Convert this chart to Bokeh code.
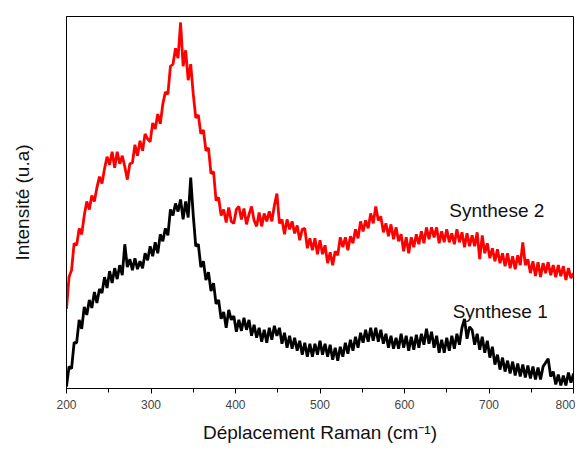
from bokeh.plotting import figure
from bokeh.models import FixedTicker, Label
from bokeh.embed import file_html
from bokeh.resources import INLINE

# Raman shift grid (cm-1), step 3
wavenumber = list(range(200, 801, 3))

# Synthese 2 (red), arbitrary units
synthese2 = [
    80, 112, 119, 146, 144, 161, 155, 174, 188, 180,
    194, 188, 202, 213, 206, 221, 233, 225, 238, 222,
    238, 226, 234, 223, 210, 226, 227, 245, 234, 249,
    239, 256, 251, 248, 267, 261, 276, 266, 286, 298,
    296, 324, 326, 342, 332, 368, 324, 340, 310, 326,
    296, 272, 275, 256, 260, 239, 242, 216, 218, 189,
    192, 174, 180, 167, 182, 168, 166, 180, 183, 170,
    181, 165, 175, 183, 169, 163, 177, 163, 176, 168,
    178, 168, 184, 196, 166, 170, 155, 170, 160, 168,
    156, 164, 149, 160, 161, 141, 151, 139, 151, 135,
    149, 135, 144, 126, 137, 124, 138, 134, 152, 142,
    152, 139, 153, 146, 160, 151, 168, 158, 169, 161,
    176, 166, 183, 169, 173, 157, 166, 153, 165, 150,
    162, 148, 155, 138, 152, 136, 152, 142, 155, 145,
    158, 146, 162, 150, 162, 152, 162, 146, 158, 147,
    160, 147, 156, 145, 160, 147, 157, 142, 156, 143,
    154, 143, 157, 130, 154, 136, 146, 131, 141, 128,
    140, 126, 136, 123, 136, 121, 133, 120, 134, 124,
    147, 124, 130, 116, 128, 113, 127, 112, 126, 116,
    127, 114, 124, 112, 124, 113, 123, 109, 121, 111,
    116,
]

# Synthese 1 (black), arbitrary units
synthese1 = [
    2, 22, 20, 46, 46, 69, 60, 82, 74, 89,
    81, 97, 86, 100, 96, 112, 101, 118, 106, 121,
    110, 124, 114, 145, 122, 130, 119, 131, 120, 128,
    121, 136, 129, 143, 133, 147, 136, 155, 148, 161,
    154, 180, 174, 186, 178, 190, 170, 188, 172, 212,
    174, 143, 145, 122, 128, 109, 117, 98, 106, 85,
    89, 70, 77, 61, 79, 69, 73, 57, 69, 58,
    71, 59, 69, 53, 64, 51, 61, 47, 59, 46,
    61, 49, 63, 53, 61, 45, 56, 41, 53, 40,
    51, 38, 48, 34, 46, 32, 45, 32, 45, 34,
    48, 34, 45, 32, 44, 29, 41, 28, 42, 32,
    46, 35, 49, 38, 52, 41, 56, 46, 59, 47,
    61, 48, 61, 47, 59, 45, 55, 41, 53, 40,
    51, 40, 55, 41, 53, 38, 52, 39, 54, 41,
    55, 44, 60, 45, 57, 41, 53, 36, 49, 36,
    51, 38, 53, 40, 55, 44, 61, 70, 50, 62,
    59, 44, 55, 39, 52, 36, 48, 31, 42, 24,
    34, 19, 31, 17, 28, 15, 27, 13, 25, 12,
    24, 11, 23, 10, 22, 9, 21, 9, 22, 26,
    30, 12, 17, 4, 14, 3, 13, 3, 16, 6,
    15,
]

x_ticks = [200, 300, 400, 500, 600, 700, 800]
x_minor_ticks = [250, 350, 450, 550, 650, 750]

series_names = ["Synthese 2", "Synthese 1"]
label_x = [653, 657]
label_y = [179, 77]

FONT = "Liberation Sans"

p = figure(width=575, height=445, output_backend="svg", toolbar_location=None,
           x_range=(200, 800), y_range=(0, 374),
           min_border_left=66, min_border_right=2, min_border_top=16,
           min_border_bottom=55)

p.line(wavenumber, synthese2, line_color="#ff0000", line_width=2.8)
p.line(wavenumber, synthese1, line_color="#000000", line_width=2.8)

for name, lx, ly in zip(series_names, label_x, label_y):
    p.add_layout(Label(x=lx, y=ly, text=name, text_font=FONT,
                       text_font_size="19px", text_color="#111111",
                       text_baseline="middle", text_align="left"))

p.xgrid.visible = False
p.ygrid.visible = False
p.outline_line_color = "black"
p.outline_line_width = 1

xa = p.xaxis[0]
xa.ticker = FixedTicker(ticks=x_ticks, minor_ticks=x_minor_ticks)
xa.major_tick_out = 5
xa.major_tick_in = 0
xa.minor_tick_out = 4
xa.minor_tick_in = 0
xa.major_tick_line_color = "black"
xa.minor_tick_line_color = "black"
xa.axis_line_color = "black"
xa.major_label_text_font = FONT
xa.major_label_text_font_size = "12px"
xa.major_label_text_color = "#444444"
xa.major_label_standoff = 6
xa.axis_label = "Déplacement Raman (cm⁻¹)"
xa.axis_label_text_font = FONT
xa.axis_label_text_font_size = "19px"
xa.axis_label_text_font_style = "normal"
xa.axis_label_text_color = "#111111"
xa.axis_label_standoff = 10

ya = p.yaxis[0]
ya.ticker = FixedTicker(ticks=[])
ya.major_tick_line_color = None
ya.minor_tick_line_color = None
ya.major_label_text_font_size = "0px"
ya.major_label_standoff = 0
ya.axis_line_color = "black"
ya.axis_label = "Intensité (u.a)"
ya.axis_label_text_font = FONT
ya.axis_label_text_font_size = "19px"
ya.axis_label_text_font_style = "normal"
ya.axis_label_text_color = "#111111"
ya.axis_label_standoff = 34

open("out.html", "w").write(file_html(p, INLINE))
